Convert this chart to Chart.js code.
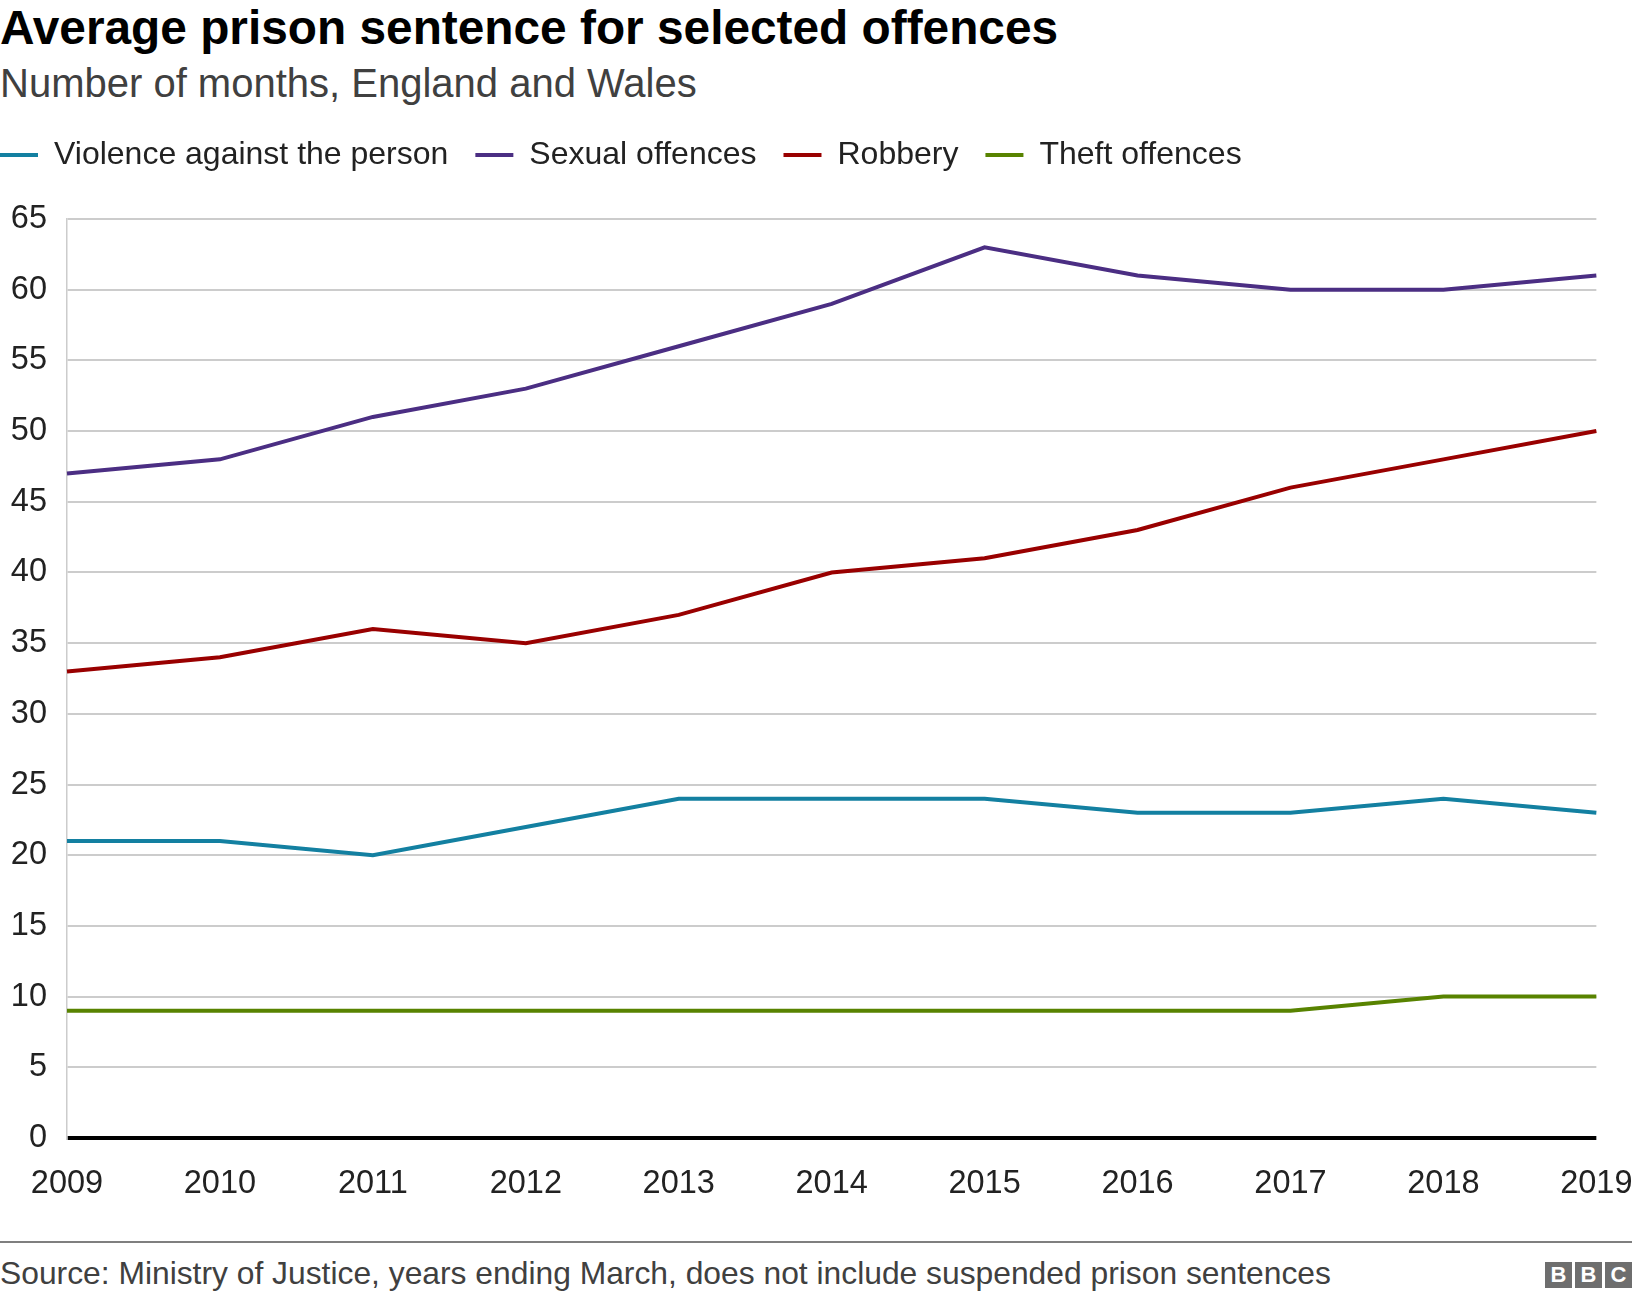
<!DOCTYPE html>
<html>
<head>
<meta charset="utf-8">
<title>Average prison sentence for selected offences</title>
<script src="https://cdn.jsdelivr.net/npm/chart.js@4.4.1/dist/chart.umd.min.js"></script>
<style>
  html, body { margin: 0; padding: 0; background: #fff; }
  body {
    width: 1632px; height: 1298px; position: relative; overflow: hidden;
    font-family: 'Liberation Sans', Arial, Helvetica, sans-serif;
  }
  #title { position: absolute; left: 0; top: 4px; font-size: 47.8px; line-height: 48px; font-weight: bold; color: #000; white-space: nowrap; }
  #subtitle { position: absolute; left: 0; top: 63px; font-size: 40px; line-height: 40px; color: #404040; white-space: nowrap; }
  #chartBox { position: absolute; left: -27px; top: 0; width: 1686px; height: 1240px; }
  #rule { position: absolute; left: 0; top: 1241px; width: 1632px; height: 2px; background: #7f7f7f; }
  #source { position: absolute; left: 0; top: 1257px; font-size: 31.8px; line-height: 32px; color: #404040; white-space: nowrap; }
  #logo { position: absolute; right: 0; top: 1262px; display: flex; gap: 3px; }
  #logo span { width: 27px; height: 26px; background: #6e6e6e; color: #fff; font-weight: bold; font-size: 22px; line-height: 26px; text-align: center; }
</style>
</head>
<body>
<div id="title">Average prison sentence for selected offences</div>
<div id="subtitle">Number of months, England and Wales</div>
<div id="chartBox"><canvas id="sentenceChart"></canvas></div>
<div id="rule"></div>
<div id="source">Source: Ministry of Justice, years ending March, does not include suspended prison sentences</div>
<div id="logo"><span>B</span><span>B</span><span>C</span></div>

<script>
// Average prison sentence (months) by offence group, years ending March
const years = ['2009', '2010', '2011', '2012', '2013', '2014', '2015', '2016', '2017', '2018', '2019'];
const seriesNames = ['Violence against the person', 'Sexual offences', 'Robbery', 'Theft offences'];
const violence = [21, 21, 20, 22, 24, 24, 24, 23, 23, 24, 23];
const sexual = [47, 48, 51, 53, 56, 59, 63, 61, 60, 60, 61];
const robbery = [33, 34, 36, 35, 37, 40, 41, 43, 46, 48, 50];
const theft = [9, 9, 9, 9, 9, 9, 9, 9, 9, 10, 10];
const yTicks = [0, 5, 10, 15, 20, 25, 30, 35, 40, 45, 50, 55, 60, 65];

const seriesColours = ['#1380a1', '#4b2e83', '#990000', '#588300'];
const LEGEND_HEIGHT = 107;

Chart.defaults.font.family = "'Liberation Sans', Arial, Helvetica, sans-serif";
Chart.defaults.color = '#222222';

// push the plot area down below the legend, like the original
const legendGap = {
  id: 'legendGap',
  beforeInit(chart) {
    const fit = chart.legend.fit;
    chart.legend.fit = function () {
      fit.call(this);
      this.height = LEGEND_HEIGHT;
    };
  }
};

function makeDataset(i, values) {
  return {
    label: seriesNames[i],
    data: values,
    borderColor: seriesColours[i],
    backgroundColor: seriesColours[i],
    borderWidth: 4,
    pointRadius: 0,
    tension: 0,
    fill: false
  };
}

function initChart() {
  const ctx = document.getElementById('sentenceChart').getContext('2d');
  return new Chart(ctx, {
    type: 'line',
    data: {
      labels: years,
      datasets: [
        makeDataset(0, violence),
        makeDataset(1, sexual),
        makeDataset(2, robbery),
        makeDataset(3, theft)
      ]
    },
    plugins: [legendGap],
    options: {
      responsive: true,
      maintainAspectRatio: false,
      animation: false,
      events: [],
      layout: { padding: { top: 112, left: 0, right: 0, bottom: 10 } },
      plugins: {
        tooltip: { enabled: false },
        legend: {
          position: 'top',
          align: 'start',
          labels: {
            usePointStyle: true,
            pointStyle: 'line',
            pointStyleWidth: 38,
            boxWidth: 38,
            padding: 27,
            color: '#222222',
            font: { size: 32 }
          }
        }
      },
      scales: {
        x: {
          type: 'category',
          offset: false,
          grid: { display: false, drawTicks: false },
          border: { display: false },
          ticks: { font: { size: 32.5 }, color: '#222222', padding: 26.5, maxRotation: 0, autoSkip: false }
        },
        y: {
          min: 0,
          max: 65,
          afterFit(scale) { scale.width = 94; },
          afterBuildTicks(scale) { scale.ticks = yTicks.map(v => ({ value: v })); },
          grid: {
            drawTicks: false,
            color: c => (c.tick && c.tick.value === 0 ? '#000000' : '#cccccc'),
            lineWidth: c => (c.tick && c.tick.value === 0 ? 4 : 2)
          },
          border: { display: true, color: '#cccccc', width: 1.5 },
          ticks: { font: { size: 32.5 }, color: '#222222', padding: 20 }
        }
      }
    }
  });
}

window.addEventListener('DOMContentLoaded', () => {
  initChart();
});
</script>
</body>
</html>
